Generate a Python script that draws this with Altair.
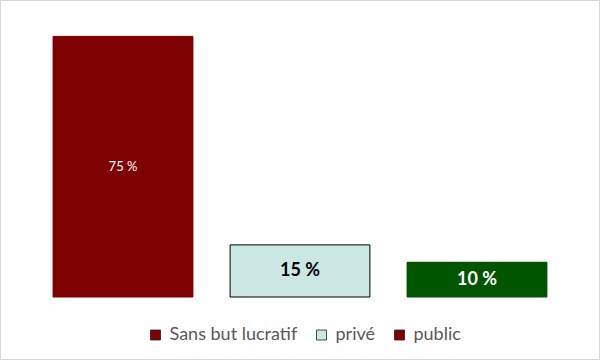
import altair as alt
import pandas as pd

categories = ["Sans but lucratif", "privé", "public"]
values = [75, 15, 10]
bar_colors = ["#7f0000", "#cae7e3", "#005500"]
legend_colors = ["#7f0000", "#cae7e3", "#7f0000"]
stroke_colors = ["#7f0000", "#000000", "#005500"]
label_texts = ["75 %", "15 %", "10 %"]

df = pd.DataFrame({
    "cat": categories,
    "value": values,
    "fill": bar_colors,
    "stroke": stroke_colors,
    "label": label_texts,
    "mid": [v / 2 for v in values],
})

xenc = alt.X("cat:N", sort=categories, axis=None,
             scale=alt.Scale(paddingInner=0.21, paddingOuter=0.105))
yscale = alt.Scale(domain=[0, 80])

base = alt.Chart(df)

legend_bars = base.mark_bar().encode(
    x=xenc,
    y=alt.Y("value:Q", scale=yscale, axis=None),
    color=alt.Color("cat:N", sort=categories,
                    scale=alt.Scale(domain=categories, range=legend_colors),
                    legend=alt.Legend(title=None, orient="none", legendX=112, legendY=307,
                                      direction="horizontal", symbolType="square",
                                      symbolSize=100, symbolStrokeColor="#222222",
                                      symbolStrokeWidth=0.8, labelFontSize=18,
                                      labelFont="Lato", labelColor="#595959",
                                      columnPadding=15, labelOffset=5)),
)

bars = base.mark_bar(strokeWidth=1).encode(
    x=xenc,
    y=alt.Y("value:Q", scale=yscale, axis=None),
    fill=alt.Fill("fill:N", scale=None),
    stroke=alt.Stroke("stroke:N", scale=None),
)

lab1 = base.transform_filter(alt.datum.cat == "Sans but lucratif").mark_text(
    font="Lato", fontSize=13, color="white").encode(
    x=xenc, y=alt.Y("mid:Q", scale=yscale), text="label:N")
lab2 = base.transform_filter(alt.datum.cat == "privé").mark_text(
    font="Lato", fontSize=18, fontWeight="bold", color="black").encode(
    x=xenc, y=alt.Y("mid:Q", scale=yscale), text="label:N")
lab3 = base.transform_filter(alt.datum.cat == "public").mark_text(
    font="Lato", fontSize=18, fontWeight="bold", color="white").encode(
    x=xenc, y=alt.Y("mid:Q", scale=yscale), text="label:N")

frame = alt.Chart(pd.DataFrame({"a": [0]})).mark_rect(
    fill="transparent", stroke="#d9d9d9", strokeWidth=1).encode(
    x=alt.value(-34), x2=alt.value(565), y=alt.value(-18.5), y2=alt.value(340.5))

chart = alt.layer(legend_bars, bars, lab1, lab2, lab3, frame).properties(
    width=531, height=278, autosize="none",
    padding={"left": 34.5, "top": 19, "right": 34.5, "bottom": 63},
    background="white",
).configure_view(stroke=None)

chart.save("out.html", embed_options={"renderer": "svg", "actions": False})
